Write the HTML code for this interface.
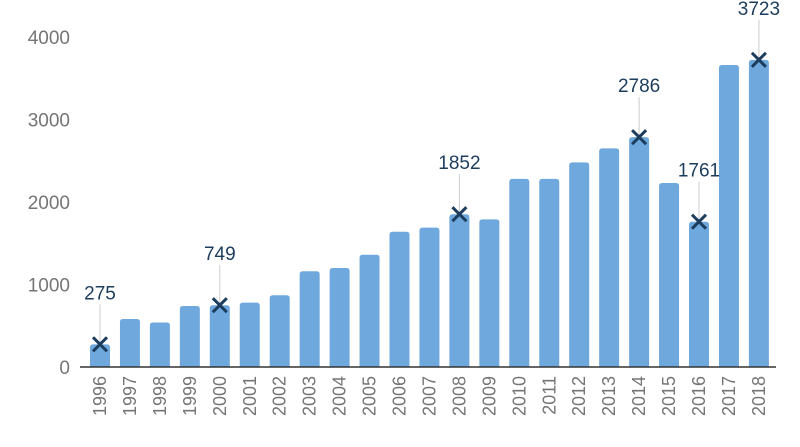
<!DOCTYPE html>
<html><head><meta charset="utf-8"><style>
body{margin:0;background:#fff}
svg{display:block;font-family:"Liberation Sans",sans-serif}
</style></head><body>
<svg id="chart" width="800" height="447" viewBox="0 0 800 447"></svg>
<script>
const categories=["1996","1997","1998","1999","2000","2001","2002","2003","2004","2005","2006","2007","2008","2009","2010","2011","2012","2013","2014","2015","2016","2017","2018"];
const values=[275,582,540,740,749,780,870,1160,1200,1360,1640,1690,1852,1790,2280,2280,2480,2650,2786,2230,1761,3660,3723];
const annotated=[0,4,12,18,20,22];
const yTicks=[0,1000,2000,3000,4000];
const NS="http://www.w3.org/2000/svg";
const svg=document.getElementById('chart');
const y0=367,pxPer=82.5/1000;
const yScale=v=>y0-v*pxPer;
const xScale=i=>100+i*29.95;
const bw=20;
function mk(t,a){const e=document.createElementNS(NS,t);for(const k in a)e.setAttribute(k,a[k]);svg.appendChild(e);return e;}
yTicks.forEach(t=>{
  const e=mk('text',{x:70,y:yScale(t)+7,'text-anchor':'end','font-size':19,fill:'#757575'});
  e.textContent=t;
  
  
});
values.forEach((v,i)=>{
  const cx=xScale(i),top=yScale(v),h=y0-top,r=Math.min(3,h);
  const p=mk('path',{d:`M${cx-bw/2},${y0}V${top+r}Q${cx-bw/2},${top} ${cx-bw/2+r},${top}H${cx+bw/2-r}Q${cx+bw/2},${top} ${cx+bw/2},${top+r}V${y0}Z`,fill:'#6fa8dc'});
  
  
  const t=mk('text',{transform:`translate(${cx+6},376) rotate(-90)`,'text-anchor':'end','font-size':18,fill:'#757575'});
  t.textContent=categories[i];
  
  
});
const ax=mk('line',{x1:80,x2:776,y1:y0,y2:y0,stroke:'#333','stroke-width':1.5});


annotated.forEach(i=>{
  const cx=xScale(i),cy=yScale(values[i]);
  const l=mk('line',{x1:cx,x2:cx,y1:cy-40,y2:cy,stroke:'#cccccc','stroke-width':1});
  
  
  const m=mk('path',{d:`M${cx-7},${cy-7}L${cx+7},${cy+7}M${cx+7},${cy-7}L${cx-7},${cy+7}`,stroke:'#1c3d5e','stroke-width':3});
  
  
  const t=mk('text',{x:cx,y:cy-45,'text-anchor':'middle','font-size':19,fill:'#1c3d5e'});
  t.textContent=values[i];
  
  
});
</script>
</body></html>
